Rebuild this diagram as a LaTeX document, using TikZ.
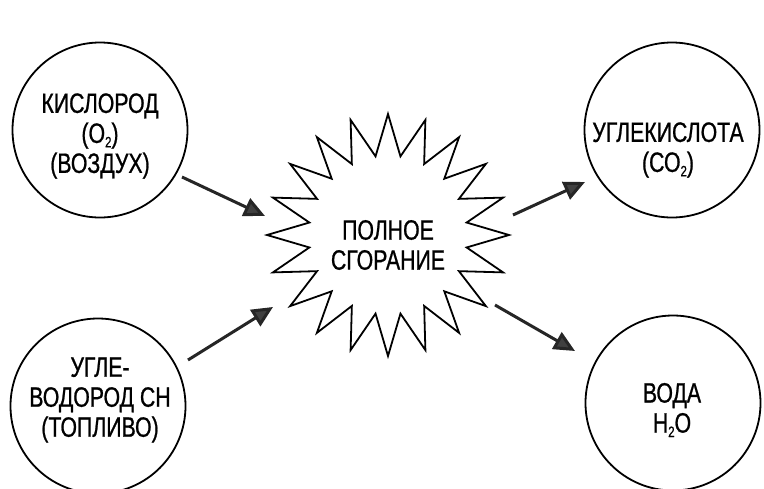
\documentclass[tikz,border=0pt]{standalone}
\usepackage{fontspec}
\setmainfont[FakeStretch=0.76,FakeBold=0.8]{Liberation Sans}
\usetikzlibrary{arrows.meta,shapes.geometric}
\newcommand\lowtwo{\raisebox{-0.3ex}{\fontsize{15}{15}\selectfont 2}}
\begin{document}
\begin{tikzpicture}[x=1pt,y=-1pt,
  bubble/.style={draw,line width=1.8pt,circle,minimum size=175pt,inner sep=0pt},
  lbl/.style={font=\fontsize{28}{30}\selectfont,align=center,inner sep=0pt},
  burst/.style={draw,line width=1.8pt,star,star points=20,star point ratio=1.52,minimum size=242pt,inner sep=0pt},
  flow/.style={line width=3pt,black!85,-{Triangle[length=21pt,width=19pt,fill=black!75]}}]
\useasboundingbox (0,0) rectangle (764,488);
% circles
\node[bubble] (c1) at (100,130) {};
\node[bubble] (c2) at (672,130) {};
\node[bubble] (c3) at (98,406) {};
\node[bubble] (c4) at (673,403) {};
% starburst
\node[burst] (s) at (388,235) {};
% labels
\node[lbl] (t1) at (100,136) {КИСЛОРОД\\(O\lowtwo)\\(ВОЗДУХ)};
\node[lbl] (t2) at (668,150) {УГЛЕКИСЛОТА\\(СО\lowtwo)};
\node[lbl] (t3) at (100,400) {УГЛЕ-\\ВОДОРОД СН\\(ТОПЛИВО)};
\node[lbl] (t4) at (672,410) {ВОДА\\Н\lowtwo О};
\node[lbl] (ts) at (388,245) {ПОЛНОЕ\\СГОРАНИЕ};
% arrow ends
\coordinate (a1s) at (182,177); \coordinate (a1e) at (265,216);
\coordinate (a2s) at (188,360); \coordinate (a2e) at (273,307);
\coordinate (a3s) at (513,215); \coordinate (a3e) at (585,182);
\coordinate (a4s) at (495,305); \coordinate (a4e) at (575,351);
\draw[flow] (a1s) -- (a1e);
\draw[flow] (a2s) -- (a2e);
\draw[flow] (a3s) -- (a3e);
\draw[flow] (a4s) -- (a4e);
\end{tikzpicture}
\end{document}
